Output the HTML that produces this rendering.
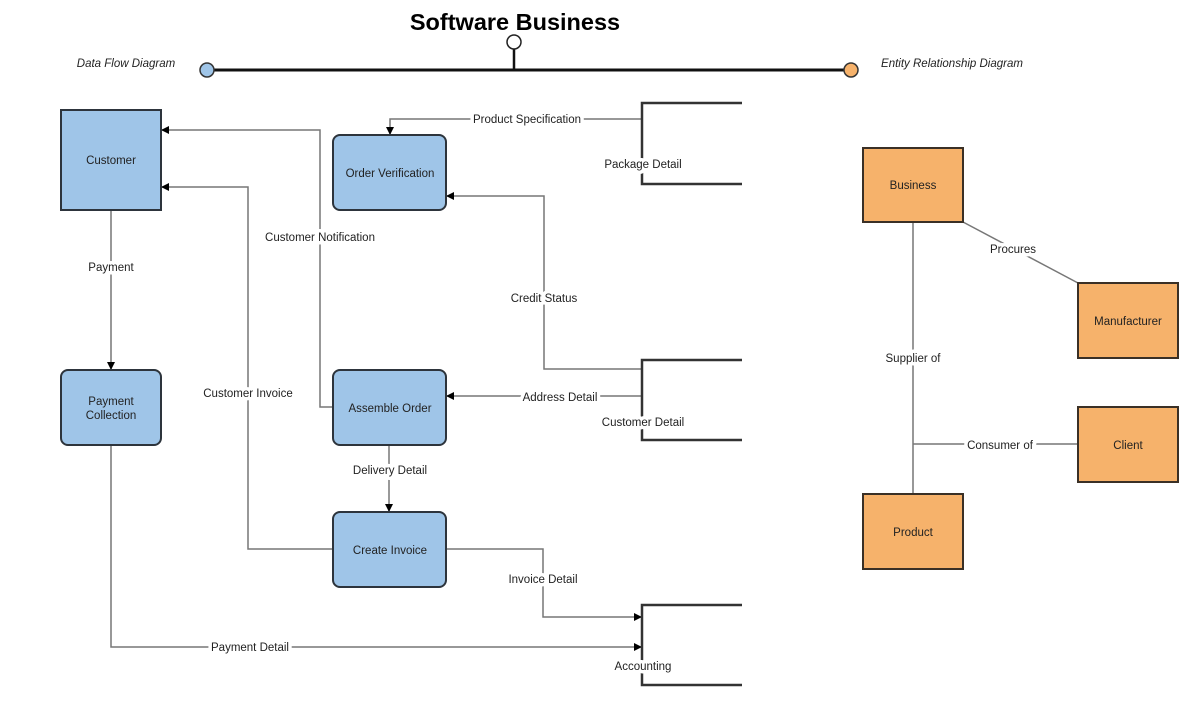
<!DOCTYPE html>
<html><head><meta charset="utf-8"><style>
html,body{margin:0;padding:0;background:#fff;}
svg text{font-family:"Liberation Sans",Arial,sans-serif;font-size:11.5px;fill:#222;}
.lbl{paint-order:stroke;stroke:#fff;stroke-width:7px;stroke-linejoin:round;}
</style></head><body>
<svg width="1204" height="709" viewBox="0 0 1204 709" xmlns="http://www.w3.org/2000/svg">
<defs>
<marker id="a" viewBox="0 0 10 10" refX="10" refY="5" markerWidth="8" markerHeight="8" orient="auto" markerUnits="userSpaceOnUse"><path d="M0,0 L10,5 L0,10 z" fill="#000"/></marker>
</defs>
<text x="515" y="30" text-anchor="middle" style="font-size:23.5px;font-weight:bold;fill:#000">Software Business</text>
<line x1="207" y1="70" x2="851" y2="70" stroke="#111" stroke-width="3"/>
<line x1="514" y1="48" x2="514" y2="70" stroke="#111" stroke-width="2.5"/>
<circle cx="514" cy="42" r="7" fill="#fff" stroke="#222" stroke-width="1.5"/>
<circle cx="207" cy="70" r="7" fill="#9fc5e8" stroke="#333" stroke-width="1.5"/>
<circle cx="851" cy="70" r="7" fill="#f6b26b" stroke="#333" stroke-width="1.5"/>
<text x="126" y="67" text-anchor="middle" style="font-style:italic">Data Flow Diagram</text>
<text x="952" y="67" text-anchor="middle" style="font-style:italic">Entity Relationship Diagram</text>

<g fill="none" stroke="#777" stroke-width="1.5">
<path d="M111,210 V370" marker-end="url(#a)"/>
<path d="M333,407 H320 V130 H161" marker-end="url(#a)"/>
<path d="M333,549 H248 V187 H161" marker-end="url(#a)"/>
<path d="M642,119 H390 V135" marker-end="url(#a)"/>
<path d="M642,369 H544 V196 H446" marker-end="url(#a)"/>
<path d="M642,396 H446" marker-end="url(#a)"/>
<path d="M389,445 V512" marker-end="url(#a)"/>
<path d="M446,549 H543 V617 H642" marker-end="url(#a)"/>
<path d="M111,445 V647 H642" marker-end="url(#a)"/>
<path d="M913,222 V494"/>
<path d="M913,444 H1078"/>
<path d="M963,222 L1078,283"/>
</g>

<g fill="none" stroke="#333" stroke-width="2.5">
<path d="M742,103 H642 V184 H742"/>
<path d="M742,360 H642 V440 H742"/>
<path d="M742,605 H642 V685 H742"/>
</g>

<g fill="#9fc5e8" stroke="#2d343c" stroke-width="2">
<rect x="61" y="110" width="100" height="100"/>
<rect x="61" y="370" width="100" height="75" rx="7"/>
<rect x="333" y="135" width="113" height="75" rx="7"/>
<rect x="333" y="370" width="113" height="75" rx="7"/>
<rect x="333" y="512" width="113" height="75" rx="7"/>
</g>
<text x="111" y="164" text-anchor="middle">Customer</text>
<text x="111" y="405" text-anchor="middle">Payment</text>
<text x="111" y="419" text-anchor="middle">Collection</text>
<text x="390" y="177" text-anchor="middle">Order Verification</text>
<text x="390" y="412" text-anchor="middle">Assemble Order</text>
<text x="390" y="554" text-anchor="middle">Create Invoice</text>

<g fill="#f6b26b" stroke="#3a3026" stroke-width="2">
<rect x="863" y="148" width="100" height="74"/>
<rect x="1078" y="283" width="100" height="75"/>
<rect x="1078" y="407" width="100" height="75"/>
<rect x="863" y="494" width="100" height="75"/>
</g>
<text x="913" y="189" text-anchor="middle">Business</text>
<text x="1128" y="325" text-anchor="middle">Manufacturer</text>
<text x="1128" y="449" text-anchor="middle">Client</text>
<text x="913" y="536" text-anchor="middle">Product</text>

<text class="lbl" x="111" y="271" text-anchor="middle">Payment</text>
<text class="lbl" x="320" y="241" text-anchor="middle">Customer Notification</text>
<text class="lbl" x="248" y="397" text-anchor="middle">Customer Invoice</text>
<text class="lbl" x="527" y="123" text-anchor="middle">Product Specification</text>
<text class="lbl" x="544" y="302" text-anchor="middle">Credit Status</text>
<text class="lbl" x="560" y="401" text-anchor="middle">Address Detail</text>
<text class="lbl" x="390" y="474" text-anchor="middle">Delivery Detail</text>
<text class="lbl" x="543" y="583" text-anchor="middle">Invoice Detail</text>
<text class="lbl" x="250" y="651" text-anchor="middle">Payment Detail</text>
<text class="lbl" x="643" y="168" text-anchor="middle">Package Detail</text>
<text class="lbl" x="643" y="426" text-anchor="middle">Customer Detail</text>
<text class="lbl" x="643" y="670" text-anchor="middle">Accounting</text>
<text class="lbl" x="1013" y="253" text-anchor="middle">Procures</text>
<text class="lbl" x="913" y="362" text-anchor="middle">Supplier of</text>
<text class="lbl" x="1000" y="449" text-anchor="middle">Consumer of</text>
</svg>
</body></html>
